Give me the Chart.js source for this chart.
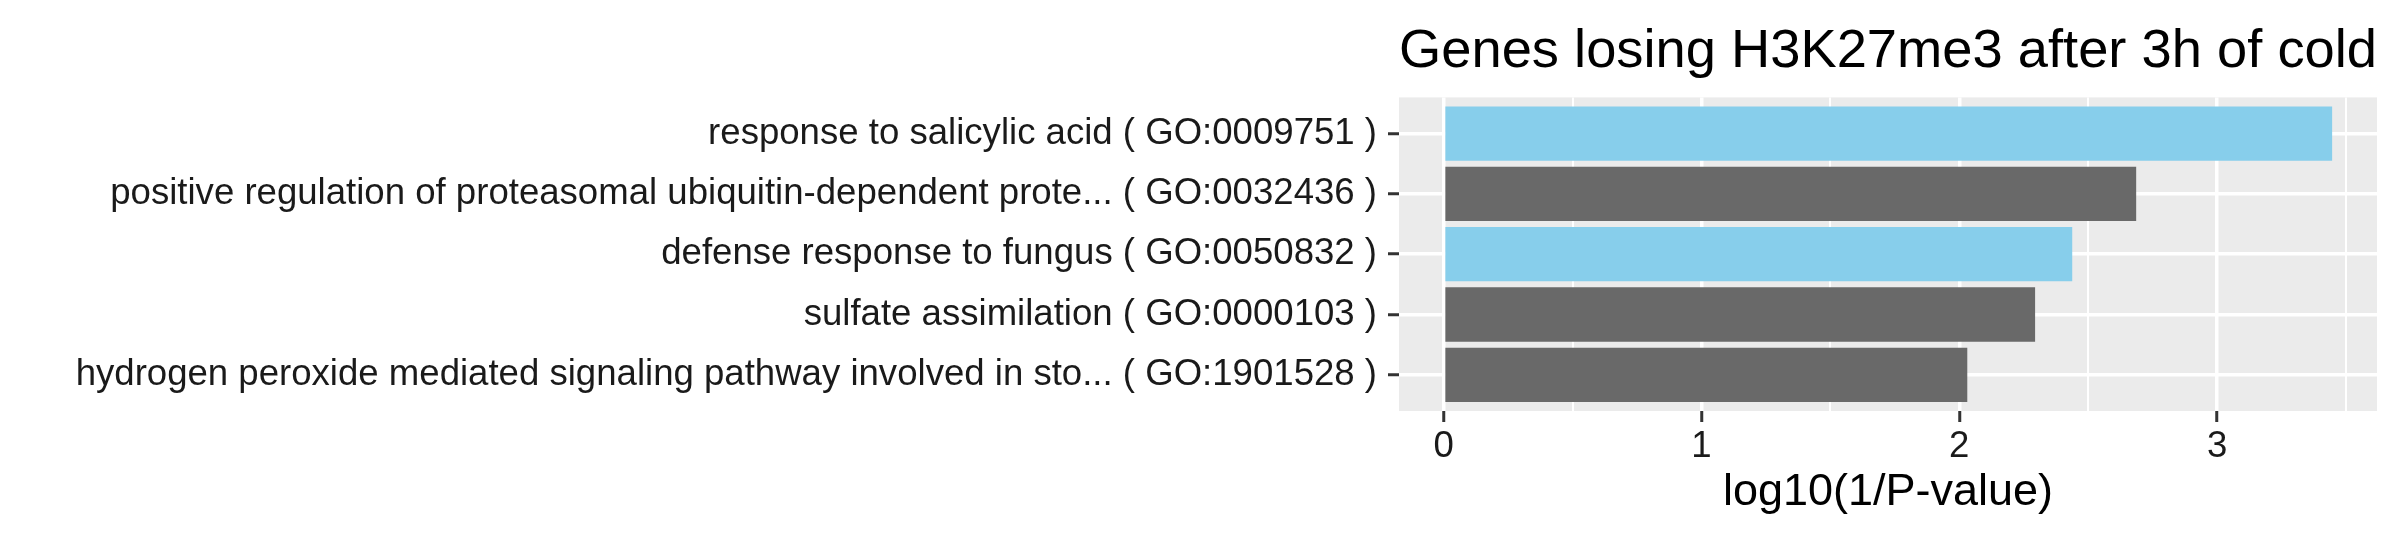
<!DOCTYPE html>
<html>
<head>
<meta charset="utf-8">
<title>Genes losing H3K27me3 after 3h of cold</title>
<script src="https://cdn.jsdelivr.net/npm/chart.js@4.4.1/dist/chart.umd.min.js"></script>
<style>
  html, body { margin: 0; padding: 0; background: #ffffff; }
  #wrap { width: 2400px; height: 540px; }
</style>
</head>
<body>
<div id="wrap"><canvas id="go-chart"></canvas></div>
<script>
// GO terms, top to bottom
const terms = [
  'response to salicylic acid ( GO:0009751 )',
  'positive regulation of proteasomal ubiquitin-dependent prote... ( GO:0032436 )',
  'defense response to fungus ( GO:0050832 )',
  'sulfate assimilation ( GO:0000103 )',
  'hydrogen peroxide mediated signaling pathway involved in sto... ( GO:1901528 )'
];
// log10(1/P-value) per term
const scores = [3.446, 2.686, 2.438, 2.294, 2.031];
// terms that are highlighted (blue)
const highlighted = [true, false, true, false, false];
const xTickLabels = [0, 1, 2, 3];

const titleText = 'Genes losing H3K27me3 after 3h of cold';
const xTitle = 'log10(1/P-value)';

const FONT = '"Liberation Sans", Arial, Helvetica, sans-serif';

// grey panel behind the plot, ggplot style
const panelBg = {
  id: 'panelBg',
  beforeDraw(chart) {
    const {ctx, chartArea: {left, top, width, height}} = chart;
    ctx.save();
    ctx.fillStyle = '#EBEBEB';
    ctx.fillRect(left, top, width, height);
    ctx.restore();
  }
};

const isMajor = (v) => xTickLabels.includes(v);

var ctx = document.getElementById('go-chart').getContext('2d');
var chart = new Chart(ctx, {
  type: 'bar',
  data: {
    datasets: [{
      data: scores.map((v, i) => ({x: v, y: i})),
      backgroundColor: highlighted.map(h => h ? '#87CEEB' : '#696969'),
      borderWidth: 0,
      barPercentage: 0.9,
      categoryPercentage: 1.0
    }]
  },
  options: {
    indexAxis: 'y',
    responsive: true,
    maintainAspectRatio: false,
    animation: false,
    layout: { padding: { left: 0, right: 23, top: 0, bottom: 0 } },
    plugins: {
      legend: { display: false },
      tooltip: { enabled: false },
      title: {
        display: true,
        text: titleText,
        align: 'start',
        fullSize: false,
        color: '#000000',
        font: { family: FONT, size: 54.5, weight: 'normal' },
        padding: { top: 19, bottom: 13 }
      }
    },
    scales: {
      x: {
        type: 'linear',
        min: -0.173,
        max: 3.62,
        border: { display: false },
        grid: {
          color: '#ffffff',
          lineWidth: c => isMajor(c.tick.value) ? 3.5 : 2,
          tickColor: c => isMajor(c.tick.value) ? '#333333' : 'rgba(0,0,0,0)',
          tickWidth: 3,
          tickLength: 11
        },
        ticks: {
          stepSize: 0.5,
          includeBounds: false,
          maxRotation: 0,
          autoSkip: false,
          padding: 3,
          color: '#1a1a1a',
          font: { family: FONT, size: 36.6 },
          callback: v => isMajor(v) ? String(v) : ''
        },
        title: {
          display: true,
          text: xTitle,
          color: '#000000',
          font: { family: FONT, size: 45 },
          padding: { top: 0, bottom: 20 }
        },
        afterFit: s => { s.height = 129; }
      },
      y: {
        type: 'linear',
        reverse: true,
        offset: false,
        min: -0.6,
        max: 4.6,
        border: { display: false },
        grid: {
          offset: false,
          color: '#ffffff',
          lineWidth: 3.5,
          tickColor: '#333333',
          tickWidth: 3,
          tickLength: 11
        },
        ticks: {
          stepSize: 1,
          includeBounds: false,
          autoSkip: false,
          padding: 11,
          color: '#1a1a1a',
          font: { family: FONT, size: 36.6 },
          callback: v => terms[v] !== undefined ? terms[v] : ''
        },
        afterFit: s => { s.width = 1399; }
      }
    }
  },
  plugins: [panelBg]
});
</script>
</body>
</html>
